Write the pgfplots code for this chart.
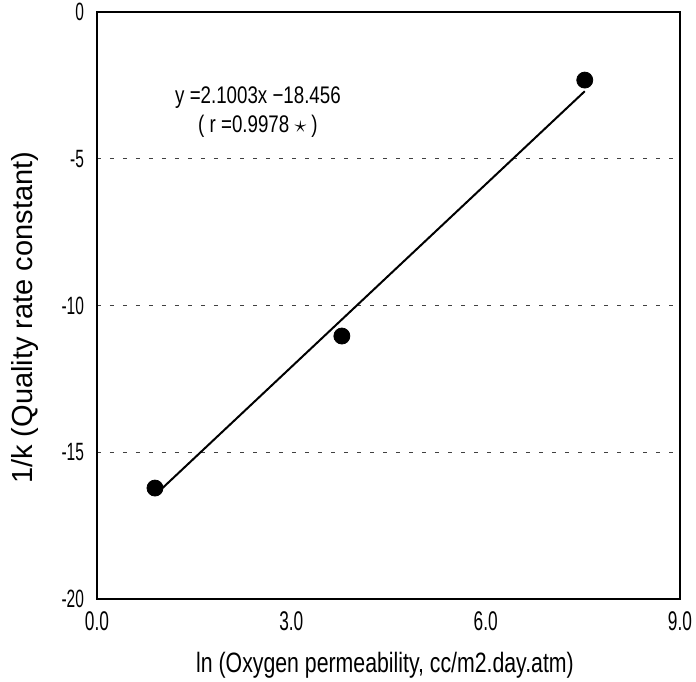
\documentclass[border=0pt]{standalone}
\usepackage{pgfplots}
\pgfplotsset{compat=1.18}
\usepackage{fontspec}
\setmainfont{Liberation Sans}
\newfontfamily\narrowT[FakeStretch=0.64]{Liberation Sans}
\newfontfamily\narrowY[FakeStretch=0.62]{Liberation Sans}
\newfontfamily\narrowL[FakeStretch=0.76]{Liberation Sans}
\newfontfamily\narrowE[FakeStretch=0.78]{Liberation Sans}
\begin{document}
\begin{tikzpicture}
\useasboundingbox (-48.5pt,-41pt) rectangle (299.5pt,299.5pt);
\begin{axis}[
  at={(0,0)}, anchor=south west,
  scale only axis,
  width=291.5pt, height=293.5pt,
  xmin=0, xmax=9, ymin=-20, ymax=0,
  xtick={0,3,6,9}, ytick={-20,-15,-10,-5,0},
  xticklabel style={/pgf/number format/fixed,/pgf/number format/fixed zerofill,/pgf/number format/precision=1,
    font=\narrowT\fontsize{13.5}{14}\selectfont, yshift=-3pt},
  yticklabel style={font=\narrowY\fontsize{12.5}{13}\selectfont, xshift=-3pt},
  /pgf/number format/assume math mode=true,
  major tick length=0pt,
  axis line style={line width=1pt},
  ymajorgrids,
  grid style={dash pattern=on 2pt off 4.5pt, line width=0.5pt, black!75},
  xlabel={ln (Oxygen permeability, cc/m2.day.atm)},
  ylabel={1/k (Quality rate constant)},
  xlabel style={font=\narrowL\fontsize{14}{15}\selectfont, at={(axis description cs:0.494,-0.1124)}, anchor=center},
  ylabel style={font=\fontsize{14.5}{16}\selectfont, at={(axis description cs:-0.1235,0.479)}, anchor=center},
  clip=false,
]
\addplot[black, line width=1pt] coordinates {(0.9,-16.45) (7.53,-2.70)};
\addplot[only marks, mark=*, mark size=4pt, black] coordinates {
(0.895,-16.22) (3.78,-11.04) (7.53,-2.32)};
\node[font=\narrowE\fontsize{12}{14.5}\selectfont, align=center] at (axis cs:2.485,-3.424)
  {y =2.1003x −18.456\\( r =0.9978 $\star$ )};
\end{axis}
\end{tikzpicture}
\end{document}
